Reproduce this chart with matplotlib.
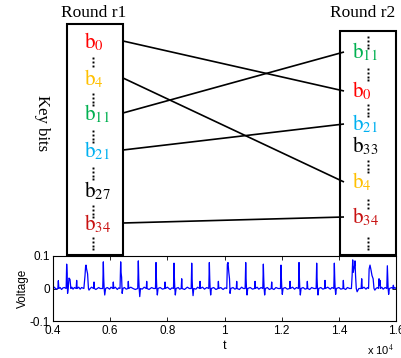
import matplotlib
matplotlib.use("Agg")
import matplotlib.pyplot as plt
from matplotlib.patches import Rectangle
from matplotlib.ticker import FixedLocator, FixedFormatter

plt.rcParams['mathtext.fontset'] = 'stix'

# ---------------- data ----------------
round_titles = ["Round r1", "Round r2"]
left_bits = ["0", "4", "11", "21", "27", "34"]
left_colors = ["#ff0000", "#ffc000", "#00b050", "#00b0f0", "#000000", "#c81010"]
right_bits = ["11", "0", "21", "33", "4", "34"]
right_colors = ["#00b050", "#ff0000", "#00b0f0", "#000000", "#ffc000", "#c81010"]
# connections: (index in left list, index in right list)
connections = [(0, 1), (1, 4), (2, 0), (3, 2), (5, 5)]

trace_t = [4000, 4050, 4100, 4170, 4187, 4205, 4250, 4300, 4350, 4400, 4460, 4478, 4495, 4510, 4530, 4560, 4595, 4625, 4660, 4700, 4750,
           4810, 4828, 4845, 4900, 4950, 5000, 5080, 5120, 5140, 5155, 5175, 5210, 5240, 5260, 5300, 5350,
           5420, 5435, 5450, 5500, 5600, 5650, 5740, 5761, 5775, 5790, 5810, 5840, 5900, 5980, 6030,
           6095, 6110, 6125, 6180, 6250, 6300, 6345, 6368, 6380, 6400, 6420, 6445, 6500, 6560,
           6620, 6635, 6650, 6720, 6800, 6880, 6965, 6985, 7000, 7015, 7035, 7060, 7120, 7190,
           7263, 7278, 7293, 7360, 7450, 7520, 7585, 7604, 7618, 7632, 7650, 7675, 7750, 7830,
           7904, 7919, 7934, 8000, 8100, 8160, 8215, 8234, 8248, 8262, 8280, 8305, 8380, 8430,
           8485, 8503, 8520, 8600, 8700, 8770, 8835, 8853, 8867, 8881, 8900, 8925, 9000, 9060,
           9129, 9144, 9159, 9230, 9300, 9380, 9450, 9470, 9484, 9498, 9516, 9540, 9620, 9700,
           9771, 9786, 9801, 9870, 9950, 10020, 10080, 10100, 10123, 10150, 10175, 10195, 10220, 10300, 10360,
           10412, 10427, 10442, 10520, 10600, 10660, 10722, 10742, 10756, 10770, 10788, 10812, 10900, 10980,
           11053, 11068, 11083, 11140, 11200, 11280, 11340, 11359, 11373, 11387, 11405, 11430, 11500, 11570,
           11636, 11651, 11666, 11730, 11800, 11880, 11958, 11977, 11991, 12005, 12023, 12048, 12120, 12200,
           12277, 12292, 12307, 12380, 12450, 12520, 12588, 12607, 12621, 12635, 12653, 12678, 12750, 12820,
           12883, 12898, 12913, 12980, 13050, 13130, 13206, 13225, 13239, 13253, 13271, 13296, 13370, 13440,
           13500, 13516, 13532, 13610, 13700, 13760, 13824, 13843, 13857, 13871, 13889, 13914, 14000, 14070,
           14142, 14158, 14174, 14240, 14300, 14380, 14440, 14465, 14485, 14505, 14525, 14550, 14566, 14585, 14610, 14640, 14700,
           14780, 14800, 14820, 14880, 14950, 15000, 15040, 15060, 15091, 15130, 15160, 15200, 15230, 15260, 15300, 15350,
           15390, 15406, 15422, 15440, 15455, 15500, 15550, 15620, 15678, 15697, 15711, 15725, 15743, 15768, 15850, 15890, 15907, 15925, 15960, 16000]
trace_v = [0.0, 0.004, -0.002, 0.0, 0.024, 0.0, 0.003, -0.003, 0.002, 0.003, 0.0, 0.075, 0.045, -0.015, 0.0, 0.032, 0.028, 0.0, 0.004, -0.002, 0.003,
           0.0, 0.025, 0.0, 0.004, -0.002, 0.003, 0.0, 0.04, 0.068, 0.072, 0.06, 0.045, 0.0, -0.005, 0.0, 0.004,
           0.0, 0.02, 0.0, -0.003, 0.003, 0.0, 0.0, 0.082, 0.03, 0.0, -0.02, 0.0, 0.003, -0.002, 0.004,
           0.0, 0.02, 0.0, 0.004, -0.003, 0.002, 0.0, 0.082, 0.05, 0.035, -0.015, 0.0, 0.003, -0.002,
           0.0, 0.022, 0.0, 0.004, 0.0, -0.003, 0.0, 0.085, 0.03, 0.0, -0.025, 0.0, -0.002, 0.004,
           0.0, 0.022, 0.0, -0.003, 0.003, 0.0, 0.0, 0.08, 0.03, 0.0, -0.02, 0.0, 0.003, -0.002,
           0.0, 0.02, 0.0, 0.004, -0.003, 0.002, 0.0, 0.078, 0.03, 0.0, -0.02, 0.0, 0.003, -0.002,
           0.0, 0.03, 0.0, -0.003, 0.004, 0.0, 0.0, 0.078, 0.03, 0.0, -0.022, 0.0, -0.002, 0.004,
           0.0, 0.022, 0.0, 0.004, -0.002, 0.003, 0.0, 0.08, 0.03, 0.0, -0.02, 0.0, 0.003, -0.003,
           0.0, 0.022, 0.0, 0.003, -0.003, 0.002, 0.0, 0.075, 0.08, 0.05, 0.03, -0.015, 0.0, 0.003, -0.002,
           0.0, 0.022, 0.0, -0.003, 0.004, 0.0, 0.0, 0.08, 0.03, 0.0, -0.02, 0.0, 0.003, -0.002,
           0.0, 0.022, 0.0, 0.004, -0.002, 0.003, 0.0, 0.075, 0.03, 0.0, -0.02, 0.0, 0.003, -0.003,
           0.0, 0.02, 0.0, -0.003, 0.003, 0.0, 0.0, 0.072, 0.03, 0.0, -0.018, 0.0, 0.003, -0.002,
           0.0, 0.022, 0.0, 0.004, -0.002, 0.003, 0.0, 0.08, 0.03, 0.0, -0.02, 0.0, 0.003, -0.002,
           0.0, 0.022, 0.0, -0.003, 0.003, 0.0, 0.0, 0.078, 0.03, 0.0, -0.02, 0.0, 0.003, -0.002,
           0.0, 0.025, 0.0, 0.004, -0.002, 0.003, 0.0, 0.078, 0.03, 0.0, -0.018, 0.0, 0.003, -0.002,
           0.0, 0.025, 0.0, -0.003, 0.003, 0.0, 0.0, 0.04, 0.088, 0.05, 0.06, 0.07, 0.085, 0.04, 0.0, -0.01, 0.0,
           0.0, 0.03, 0.0, 0.004, -0.002, 0.003, 0.0, 0.06, 0.072, 0.055, 0.04, 0.03, 0.0, -0.005, 0.0, 0.003,
           0.0, 0.03, 0.01, 0.025, 0.0, 0.004, -0.002, 0.003, 0.0, 0.07, 0.03, 0.0, -0.018, 0.0, 0.003, 0.0, 0.01, 0.0, 0.003, 0.0]

x_ticks = [4000, 6000, 8000, 10000, 12000, 14000, 16000]
x_ticklabels = ["0.4", "0.6", "0.8", "1", "1.2", "1.4", "1.6"]
y_ticks = [-0.1, 0, 0.1]
y_ticklabels = ["-0.1", "0", "0.1"]

# ---------------- layout (pixel coords) ----------------
W, H = 402, 358
fig = plt.figure(figsize=(W / 100, H / 100), dpi=100)

ov = fig.add_axes([0, 0, 1, 1])
ov.set_xlim(0, W)
ov.set_ylim(H, 0)
ov.axis("off")

serif = "Liberation Serif"
boxes = [(67, 24, 123, 255), (340, 31, 396, 255)]
for (x0, y0, x1, y1) in boxes:
    ov.add_patch(Rectangle((x0, y0), x1 - x0, y1 - y0, fill=False, lw=1.5, ec="black"))

title_x = [94, 363]
for tx, t in zip(title_x, round_titles):
    ov.text(tx, 17, t, ha="center", va="baseline", fontsize=12.5, family=serif)

ov.text(42, 123, "Key bits", rotation=-90, ha="center", va="center", fontsize=12, family=serif)

left_base = [48, 85, 120, 157, 197, 230]
right_base = [58, 97, 130, 152, 188, 223]
for b, c, y in zip(left_bits, left_colors, left_base):
    ov.text(84, y, r"$\mathrm{b}_{%s}$" % b, color=c, fontsize=15, ha="left", va="baseline")
for b, c, y in zip(right_bits, right_colors, right_base):
    ov.text(352, y, r"$\mathrm{b}_{%s}$" % b, color=c, fontsize=15, ha="left", va="baseline")

# dotted separators
left_dots = [(58, 3), (94, 4), (131, 4), (168, 4), (206, 4), (238, 4)]
right_dots = [(37, 4), (69, 4), (105, 4), (161, 4), (200, 3), (238, 4)]
for xdot, groups in ((93, left_dots), (368, right_dots)):
    for y0, n in groups:
        ys = [y0 + 3.8 * k for k in range(n)]
        ov.plot([xdot] * n, ys, ls="none", marker="s", ms=1.4, color="black", mew=0)

# connection lines
for li, ri in connections:
    ov.plot([123, 344], [left_base[li] - 7, right_base[ri] - 6], color="black", lw=1.2,
            solid_capstyle="butt")

# ---------------- voltage axes ----------------
ax = fig.add_axes([53 / W, 1 - 321 / H, 343 / W, 65 / H])
ax.plot(trace_t, trace_v, color="#0000ff", lw=0.9)
ax.set_xlim(4000, 16000)
ax.set_ylim(-0.1, 0.1)
ax.xaxis.set_major_locator(FixedLocator(x_ticks))
ax.xaxis.set_major_formatter(FixedFormatter(x_ticklabels))
ax.yaxis.set_major_locator(FixedLocator(y_ticks))
ax.yaxis.set_major_formatter(FixedFormatter(y_ticklabels))
ax.tick_params(direction="in", top=True, right=True, length=3, width=0.6, labelsize=8.5)
ax.tick_params(axis="x", pad=3)
ax.tick_params(axis="y", pad=2)
for lab in ax.get_xticklabels() + ax.get_yticklabels():
    lab.set_family("Liberation Sans")
for s in ax.spines.values():
    s.set_linewidth(0.8)
ax.set_xlabel("t", fontsize=9, family="Liberation Sans", labelpad=2)
ax.set_ylabel("Voltage", fontsize=8.5, family="Liberation Sans", labelpad=1)
fig.text(367 / W, 1 - 355 / H, r"x 10$^{4}$", fontsize=8, family="Liberation Sans",
         ha="left", va="baseline")

fig.savefig("out.png", dpi=100)
